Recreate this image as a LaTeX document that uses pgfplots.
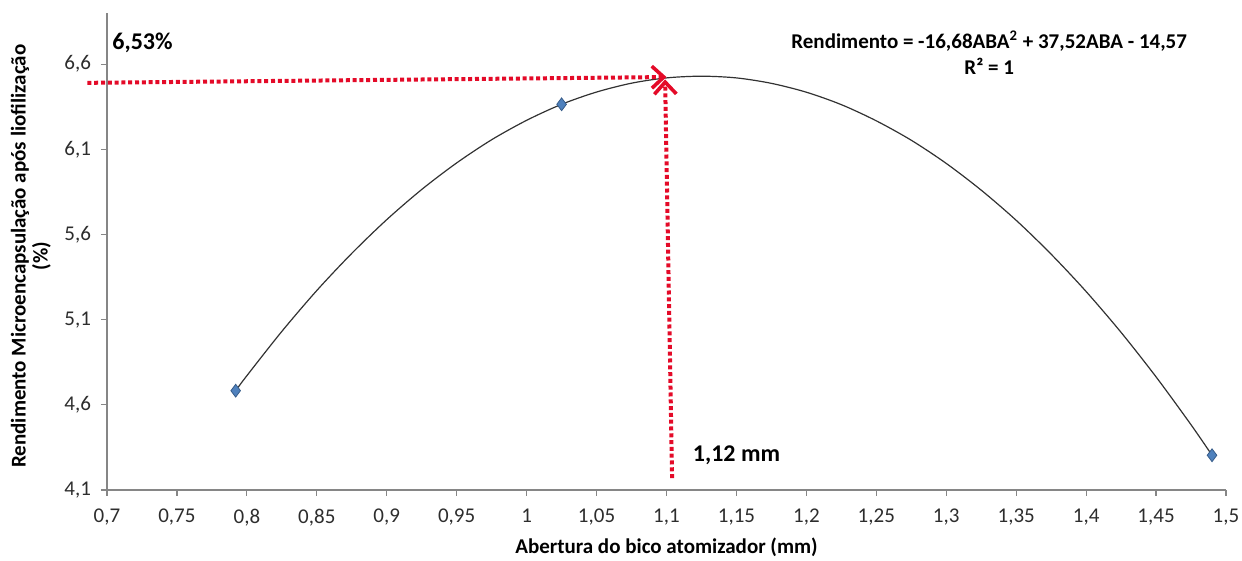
\documentclass[border=0pt]{standalone}
\usepackage{fontspec}
\setmainfont{Carlito}
\usepackage{pgfplots}
\pgfplotsset{compat=1.18}
\usetikzlibrary{arrows.meta}
\definecolor{axisgray}{RGB}{134,134,134}
\definecolor{ticktext}{RGB}{45,45,45}
\definecolor{ptblue}{RGB}{79,129,189}
\definecolor{ptedge}{RGB}{56,93,138}
\definecolor{arrowred}{RGB}{228,10,40}
\definecolor{curvegray}{RGB}{50,50,50}

\begin{document}
\begin{tikzpicture}
\useasboundingbox (-53.5pt,-35.5pt) rectangle (567.5pt,245pt);
\begin{axis}[
    scale only axis, width=559.5pt, height=238.5pt,
    xmin=0.7, xmax=1.5, ymin=4.1, ymax=6.9,
    axis x line*=bottom, axis y line*=left,
    axis line style={axisgray, line width=0.6pt},
    xtick={0.7,0.75,0.8,0.85,0.9,0.95,1,1.05,1.1,1.15,1.2,1.25,1.3,1.35,1.4,1.45,1.5},
    ytick={4.1,4.6,5.1,5.6,6.1,6.6},
    tick align=outside, major tick length=3pt,
    tick style={axisgray, line width=0.6pt},
    ticklabel style={font=\fontsize{10.5}{12}\selectfont, text=ticktext},
    xticklabel style={yshift=-3pt},
    yticklabel style={xshift=-1.5pt},
    /pgf/number format/.cd, use comma, assume math mode=true,
    /pgfplots/.cd,
    xlabel={Abertura do bico atomizador (mm)},
    xlabel style={at={(axis description cs:0.5,-0.1195)}, anchor=center,
        font=\bfseries\fontsize{10.5}{12}\selectfont},
    ylabel={Rendimento Microencapsulação após liofilização\\(\%)},
    ylabel style={at={(axis description cs:-0.068,0.49)}, anchor=center,
        align=center, font=\bfseries\fontsize{10.5}{11}\selectfont},
    clip=false,
]
% linha de tendencia (polinomial)
\addplot[smooth, curvegray, line width=0.6pt, no marks] coordinates {
    (0.792,4.683) (0.8,4.771) (0.825,5.031) (0.85,5.271) (0.875,5.489)
    (0.9,5.687) (0.925,5.864) (0.95,6.020) (0.975,6.156) (1.0,6.270)
    (1.025,6.364) (1.05,6.436) (1.075,6.488) (1.1,6.519) (1.125,6.529)
    (1.15,6.519) (1.175,6.487) (1.2,6.435) (1.225,6.362) (1.25,6.267)
    (1.275,6.153) (1.3,6.017) (1.325,5.860) (1.35,5.683) (1.375,5.484)
    (1.4,5.265) (1.425,5.025) (1.45,4.764) (1.475,4.483) (1.49,4.304)
};
% pontos experimentais
\addplot[only marks, mark=diamond*, mark size=3.2pt,
    mark options={fill=ptblue, draw=ptedge, line width=0.4pt}] coordinates {
    (0.792,4.683) (1.025,6.364) (1.49,4.304)
};
% setas
\draw[arrowred, line width=2pt, dash pattern=on 2pt off 1.4pt,
    -{Straight Barb[length=6pt, width=11pt, line width=1.8pt]}]
    (axis cs:0.686,6.49) -- (axis cs:1.1,6.524);
\draw[arrowred, line width=2pt, dash pattern=on 2pt off 1.4pt,
    -{Straight Barb[length=6pt, width=11pt, line width=1.8pt]}]
    (axis cs:1.104,4.17) -- (axis cs:1.099,6.51);
\node[anchor=west, inner sep=0pt, font=\bfseries\fontsize{12}{14}\selectfont]
    at (axis cs:0.7036,6.723) {6,53\%};
\node[anchor=west, inner sep=0pt, font=\bfseries\fontsize{12}{14}\selectfont]
    at (axis cs:1.1186,4.305) {1,12 mm};
\node[align=center, inner sep=0pt, font=\bfseries\fontsize{10.5}{13}\selectfont]
    at (axis cs:1.3307,6.665) {Rendimento = -16,68ABA\textsuperscript{2} + 37,52ABA - 14,57\\R² = 1};
\end{axis}
\end{tikzpicture}
\end{document}
